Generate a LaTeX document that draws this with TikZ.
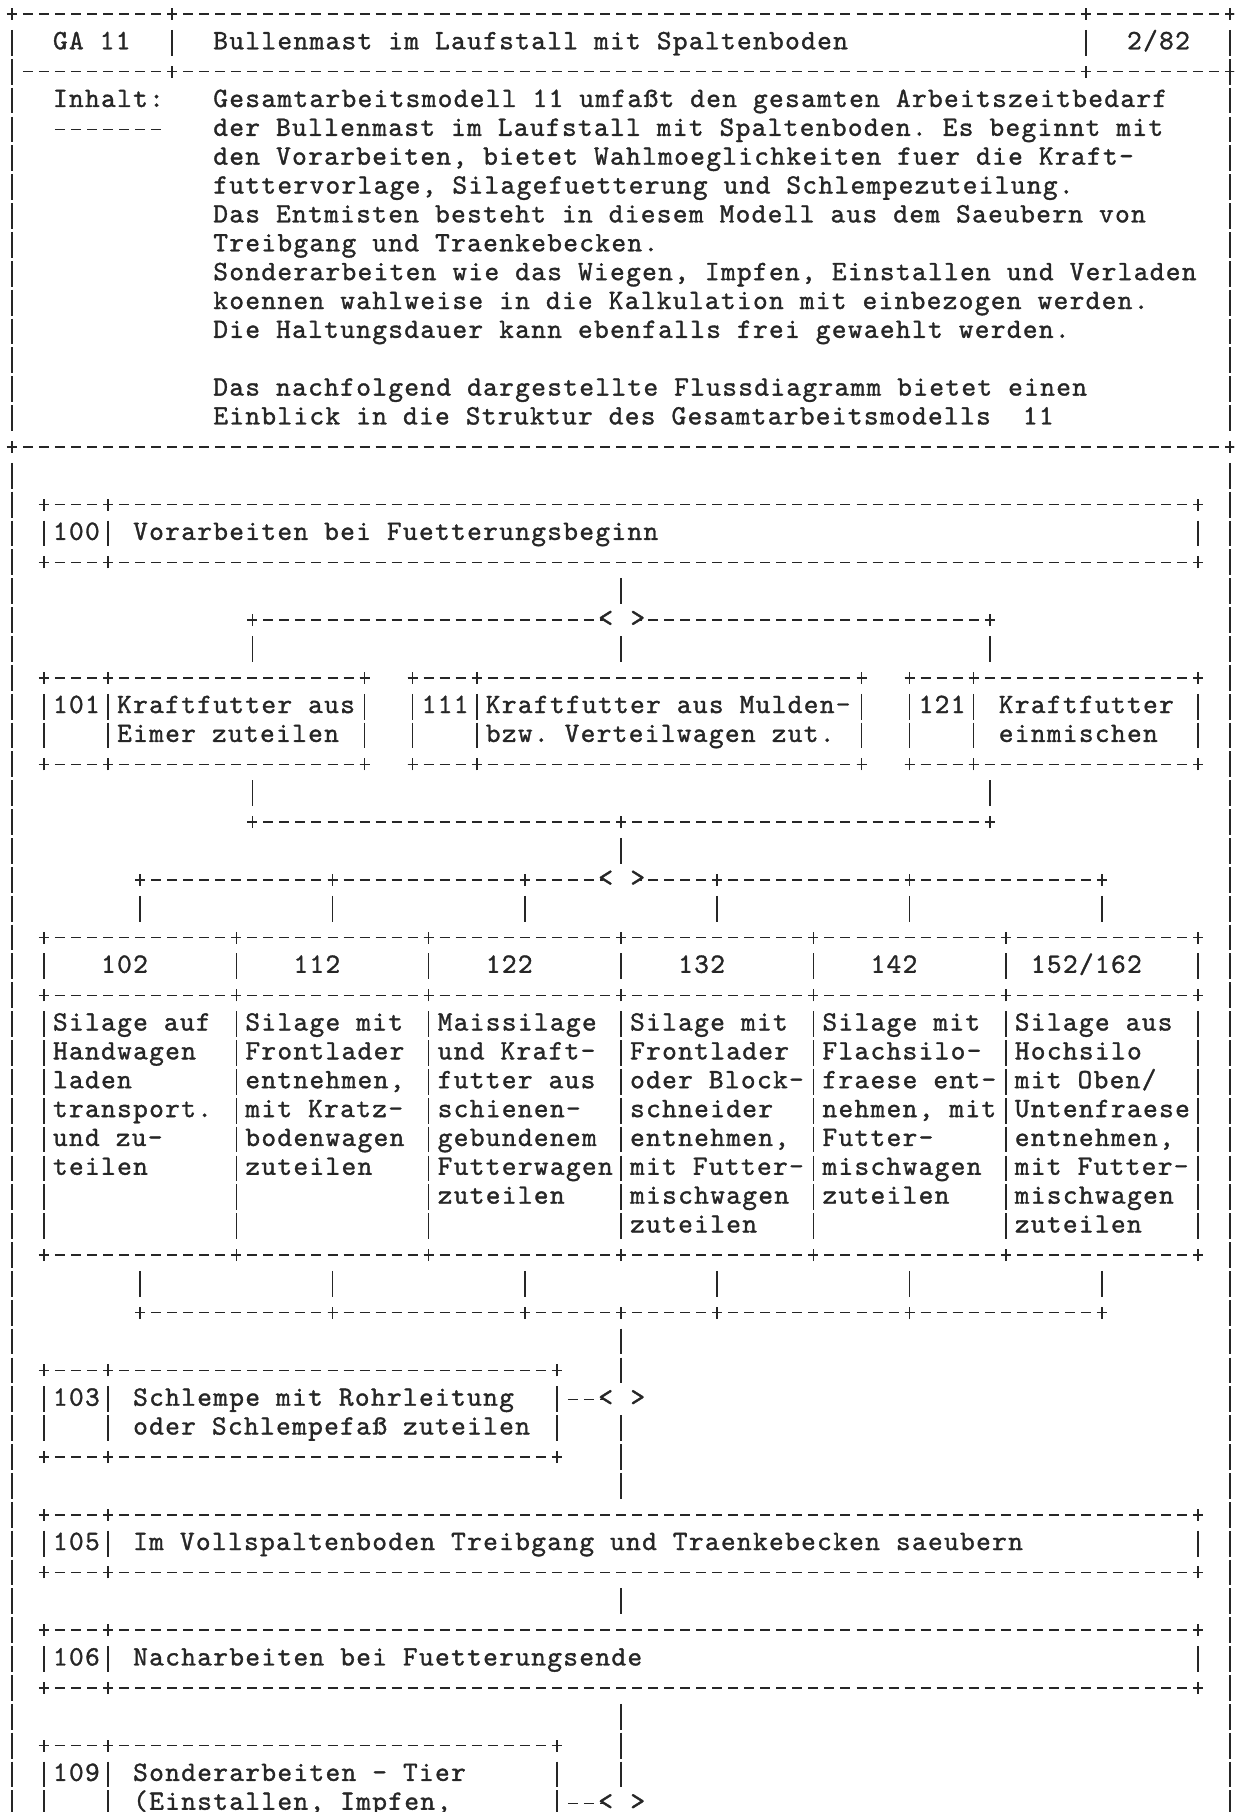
\documentclass[tikz,border=0pt]{standalone}
\usepackage{fontspec}
\usepackage{tikz}
\usetikzlibrary{fit}

\newfontfamily\asciifont{lmmono10-regular.otf}[LetterSpace=4.75, FakeBold=1.2]
\newcommand{\asciitext}{\asciifont\fontsize{14pt}{14.43pt}\selectfont
  \fontdimen2\font=8.015pt\relax\frenchspacing}
\definecolor{tinte}{gray}{0.15}

\begin{document}
\begin{tikzpicture}[
        x=8.015pt, y=-14.43pt,
        txt/.style={font=\asciitext, text=tinte, inner sep=0pt, anchor=base west, xshift=-3.68pt, yshift=-3.2pt},
        sym/.style={font=\asciitext, text=tinte, inner sep=0pt, anchor=base, xshift=0.33pt, yshift=-3.2pt},
        kasten/.style={inner sep=0pt, outer sep=0pt},
        hl/.style={draw=tinte, line width=0.75pt, dash pattern=on 5pt off 3.015pt, shorten <=-2.5pt, shorten >=-2.5pt},
        vl/.style={draw=tinte, line width=0.75pt, dash pattern=on 12.9pt off 1.53pt, dash phase=13.665pt},
        kreuz/.pic={\draw[tinte, line width=0.75pt] (-2.5pt,0) -- (2.5pt,0) (0,-3pt) -- (0,3pt);}
    ]
        \useasboundingbox (-0.742,-0.485) rectangle (76.24,62.30);
        \clip (-0.742,-0.485) rectangle (76.24,62.30);

        % Kopf
        \draw[hl] (0,0) -- (76,0);
        \draw[hl] (1,2) -- (76,2);
        \draw[hl] (0,15) -- (76,15);
        \foreach \c in {0,10,67,76} \pic at (\c,0) {kreuz};
        \foreach \c in {10,67,76} \pic at (\c,2) {kreuz};
        \foreach \c in {0,76} \pic at (\c,15) {kreuz};
        \draw[vl] (0,0.5) -- (0,14.5) (76,0.5) -- (76,14.5);
        \draw[vl] (0,15.5) -- (0,62.5) (76,15.5) -- (76,62.5);
        \draw[vl] (10,0.5) -- (10,1.5) (67,0.5) -- (67,1.5);

        \node[txt] (ga) at (3,1) {GA 11};
        \node[txt] (titel) at (13,1) {Bullenmast im Laufstall mit Spaltenboden};
        \node[txt] (blatt) at (70,1) {2/82};
        \node[txt] (inhalt) at (3,3) {Inhalt:};
        \draw[hl] (3,4) -- (9,4);
        \foreach \r/\z in {
            3/{Gesamtarbeitsmodell 11 umfaßt den gesamten Arbeitszeitbedarf},
            4/{der Bullenmast im Laufstall mit Spaltenboden. Es beginnt mit},
            5/{den Vorarbeiten, bietet Wahlmoeglichkeiten fuer die Kraft-},
            6/{futtervorlage, Silagefuetterung und Schlempezuteilung.},
            7/{Das Entmisten besteht in diesem Modell aus dem Saeubern von},
            8/{Treibgang und Traenkebecken.},
            9/{Sonderarbeiten wie das Wiegen, Impfen, Einstallen und Verladen},
            10/{koennen wahlweise in die Kalkulation mit einbezogen werden.},
            11/{Die Haltungsdauer kann ebenfalls frei gewaehlt werden.},
            13/{Das nachfolgend dargestellte Flussdiagramm bietet einen},
            14/{Einblick in die Struktur des Gesamtarbeitsmodells~~11}}
            \node[txt] (p\r) at (13,\r) {\z};

        % Kaesten
        \node[kasten, fit={(2,17) (74,19)}] (b100) {};
        \node[kasten, fit={(2,23) (22,26)}] (b101) {};
        \node[kasten, fit={(25,23) (53,26)}] (b111) {};
        \node[kasten, fit={(56,23) (74,26)}] (b121) {};
        \node[kasten, fit={(2,47) (34,50)}] (b103) {};
        \node[kasten, fit={(2,52) (74,54)}] (b105) {};
        \node[kasten, fit={(2,56) (74,58)}] (b106) {};
        \node[kasten, fit={(2,60) (34,63)}] (b109) {};
        \node[kasten, fit={(2,32) (74,43)}] (tab) {};

        \foreach \b in {b100,b101,b111,b121,b103,b105,b106,b109} {
            \draw[hl] (\b.north west) -- (\b.north east);
            \draw[hl] (\b.south west) -- (\b.south east);
            \draw[vl] ([yshift=-7.215pt]\b.north west) -- ([yshift=7.215pt]\b.south west);
            \draw[vl] ([yshift=-7.215pt]\b.north east) -- ([yshift=7.215pt]\b.south east);
            \draw[vl] ([xshift=32.06pt,yshift=-7.215pt]\b.north west) -- ([xshift=32.06pt,yshift=7.215pt]\b.south west);
            \foreach \a in {north west,north east,south west,south east}
                \pic at (\b.\a) {kreuz};
            \pic at ([xshift=32.06pt]\b.north west) {kreuz};
            \pic at ([xshift=32.06pt]\b.south west) {kreuz};
        }

        \node[txt] (n100) at (3,18) {100};
        \node[txt] (t100) at (8,18) {Vorarbeiten bei Fuetterungsbeginn};
        \node[txt] (n101) at (3,24) {101};
        \node[txt] (t101a) at (7,24) {Kraftfutter aus};
        \node[txt] (t101b) at (7,25) {Eimer zuteilen};
        \node[txt] (n111) at (26,24) {111};
        \node[txt] (t111a) at (30,24) {Kraftfutter aus Mulden-};
        \node[txt] (t111b) at (30,25) {bzw. Verteilwagen zut.};
        \node[txt] (n121) at (57,24) {121};
        \node[txt] (t121a) at (62,24) {Kraftfutter};
        \node[txt] (t121b) at (62,25) {einmischen};
        \node[txt] (n103) at (3,48) {103};
        \node[txt] (t103a) at (8,48) {Schlempe mit Rohrleitung};
        \node[txt] (t103b) at (8,49) {oder Schlempefaß zuteilen};
        \node[txt] (n105) at (3,53) {105};
        \node[txt] (t105) at (8,53) {Im Vollspaltenboden Treibgang und Traenkebecken saeubern};
        \node[txt] (n106) at (3,57) {106};
        \node[txt] (t106) at (8,57) {Nacharbeiten bei Fuetterungsende};
        \node[txt] (n109) at (3,61) {109};
        \node[txt] (t109a) at (8,61) {Sonderarbeiten - Tier};
        \node[txt] (t109b) at (8,62) {(Einstallen, Impfen,};

        % Silage-Tabelle
        \foreach \r in {32,34,43} {
            \draw[hl] (2,\r) -- (74,\r);
            \foreach \c in {2,14,...,74} \pic at (\c,\r) {kreuz};
        }
        \foreach \c in {2,14,...,74}
            \draw[vl] (\c,32.5) -- (\c,33.5) (\c,34.5) -- (\c,42.5);
        \node[txt] (h102) at (6,33) {102};
        \node[txt] (h112) at (18,33) {112};
        \node[txt] (h122) at (30,33) {122};
        \node[txt] (h132) at (42,33) {132};
        \node[txt] (h142) at (54,33) {142};
        \node[txt] (h152) at (64,33) {152/162};
        \foreach \c/\zeilen [count=\i] in {
            3/{Silage auf,Handwagen,laden,transport.,und zu-,teilen},
            15/{Silage mit,Frontlader,{entnehmen,},mit Kratz-,bodenwagen,zuteilen},
            27/{Maissilage,und Kraft-,futter aus,schienen-,gebundenem,Futterwagen,zuteilen},
            39/{Silage mit,Frontlader,oder Block-,schneider,{entnehmen,},mit Futter-,mischwagen,zuteilen},
            51/{Silage mit,Flachsilo-,fraese ent-,{nehmen, mit},Futter-,mischwagen,zuteilen},
            63/{Silage aus,Hochsilo,mit Oben/,Untenfraese,{entnehmen,},mit Futter-,mischwagen,zuteilen}}
            \foreach \z [count=\r from 35] in \zeilen
                \node[txt] (z\i-\r) at (\c,\r) {\z};

        % Verzweigung Kraftfutter
        \coordinate (k1) at (15,21);
        \coordinate (k2) at (38,21);
        \coordinate (k3) at (61,21);
        \node[sym] (lt1) at (37,21) {<};
        \node[sym] (gt1) at (39,21) {>};
        \draw[vl] ([yshift=-7.215pt]b100.south) -- ([yshift=7.215pt]k2);
        \draw[hl] (k1) -- (lt1.west |- k1);
        \draw[hl] (k3) -- (gt1.east |- k3);
        \pic at (k1) {kreuz};
        \pic at (k3) {kreuz};
        \foreach \k/\b in {k1/b101,k2/b111,k3/b121}
            \draw[vl] ([yshift=-7.215pt]\k) -- ([yshift=7.215pt]\k |- \b.north);

        % Zusammenfuehrung
        \coordinate (m1) at (15,28);
        \coordinate (m2) at (38,28);
        \coordinate (m3) at (61,28);
        \draw[vl] ([yshift=-7.215pt]m1 |- b101.south) -- ([yshift=7.215pt]m1);
        \draw[vl] ([yshift=-7.215pt]m3 |- b121.south) -- ([yshift=7.215pt]m3);
        \draw[hl] (m1) -- (m3);
        \foreach \m in {m1,m2,m3} \pic at (\m) {kreuz};

        % Verzweigung Silage
        \coordinate (s2) at (38,30);
        \node[sym] (lt2) at (37,30) {<};
        \node[sym] (gt2) at (39,30) {>};
        \draw[vl] ([yshift=-7.215pt]m2) -- ([yshift=7.215pt]s2);
        \foreach \i/\c in {1/8,2/20,3/32,4/44,5/56,6/68} {
            \coordinate (a\i) at (\c,30);
            \coordinate (e\i) at (\c,45);
        }
        \coordinate (e0) at (38,45);
        \draw[hl] (a1) -- (lt2.west |- a1);
        \draw[hl] (a6) -- (gt2.east |- a6);
        \draw[hl] (e1) -- (e6);
        \pic at (e0) {kreuz};
        \foreach \i in {1,...,6} {
            \pic at (a\i) {kreuz};
            \pic at (e\i) {kreuz};
            \draw[vl] ([yshift=-7.215pt]a\i) -- ([yshift=7.215pt]a\i |- tab.north);
            \draw[vl] ([yshift=-7.215pt]a\i |- tab.south) -- ([yshift=7.215pt]e\i);
        }

        % Schlempe, Entmisten, Nacharbeiten
        \coordinate (j1) at (38,48);
        \node[sym] (lt3) at (37,48) {<};
        \node[sym] (gt3) at (39,48) {>};
        \draw[vl] ([yshift=-7.215pt]e0) -- ([yshift=7.215pt]j1);
        \draw[vl] ([yshift=-7.215pt]j1) -- ([yshift=7.215pt]b105.north -| j1);
        \draw[hl] ([xshift=8.015pt]b103.east |- j1) -- (lt3.west |- j1);
        \draw[vl] ([yshift=-7.215pt]b105.south) -- ([yshift=7.215pt]b106.north);

        % Sonderarbeiten
        \coordinate (j2) at (38,62);
        \node[sym] (lt4) at (37,62) {<};
        \node[sym] (gt4) at (39,62) {>};
        \draw[vl] ([yshift=-7.215pt]b106.south) -- ([yshift=7.215pt]j2);
        \draw[hl] ([xshift=8.015pt]b109.east |- j2) -- (lt4.west |- j2);
    \end{tikzpicture}
\end{document}
